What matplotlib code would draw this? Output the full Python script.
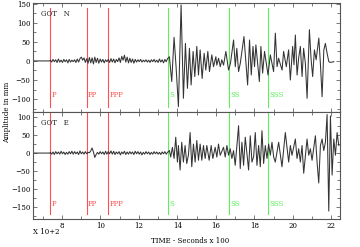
import numpy as np
import matplotlib
matplotlib.use("Agg")
import matplotlib.pyplot as plt
from matplotlib.ticker import MultipleLocator

plt.rcParams['font.family'] = ['DejaVu Serif']

# ---- data ----
x_start = 6.5
noise_start = 7.40
noise_step = 0.07

top_noise = [2, -3, 4, -2, 3, -4, 5, -3, 2, -4,
             4, -2, 3, -5, 4, -3, 2, -2, 3, -4,
             5, -3, 6, 10, 2, 8, -4, 6, -6, 9,
             -5, 8, -8, 10, -4, 7, -6, 5, -3, 4,
             -5, 3, -2, 4, -4, 6, -3, 5, -5, 4,
             -2, 8, -4, 12, 2, 15, -3, 10, -5, 7,
             -4, 5, -6, 4, -3, 3, -2, 4, -3, 2,
             -2, 3, -3, 2, -4, 3, -2, 4, -3, 2,
             -4, 5, -3, 3, -5, 4, -2, 6]

bot_noise = [2, -3, 3, -4, 4, -2, 3, -3, 5, -2,
             3, -4, 2, -3, 4, -2, 5, -3, 4, -2,
             3, -4, 6, -2, 3, -3, 4, -2, 2, 1,
             6, 14, 3, -12, -4, 2, -3, 4, -2, 3,
             -4, 5, -3, 4, -2, 6, -3, 5, -4, 3,
             -2, 4, -5, 3, -2, 5, -4, 3, -3, 4,
             -2, 3, -4, 5, -2, 4, -3, 3, -5, 2,
             -3, 4, -2, 3, -4, 2, -3, 4, -2, 3,
             -3, 2, -4, 3, -2, 4, -3, 2]

top_t = [13.586, 13.708, 13.829, 13.933, 14.055, 14.194, 14.315, 14.419, 14.524, 14.628,
         14.715, 14.819, 14.906, 15.010, 15.097, 15.183, 15.288, 15.392, 15.478, 15.583,
         15.669, 15.791, 15.878, 16.000, 16.050, 16.140, 16.230, 16.310, 16.400, 16.520,
         16.660, 16.760, 16.920, 17.010, 17.090, 17.180, 17.270, 17.460, 17.650, 17.750,
         17.840, 17.930, 18.010, 18.080, 18.260, 18.340, 18.430, 18.530, 18.710, 18.830,
         19.000, 19.090, 19.180, 19.260, 19.440, 19.520, 19.660, 19.780, 19.870, 19.990,
         20.060, 20.130, 20.220, 20.300, 20.390, 20.480, 20.560, 20.650, 20.740, 20.860,
         20.950, 21.030, 21.120, 21.210, 21.350, 21.430, 21.520, 21.610, 21.690, 21.780,
         21.870, 21.950, 22.130]
top_v = [11, -54, 62, -15, -120, 147, -98, 46, -72, 33,
         -63, 25, -41, 38, -37, 29, -46, 20, -24, 25,
         -28, 16, -15, 11, -11, 7, -15, 3, -11, 25,
         -24, -6, 55, -15, 33, -28, -6, 64, -63, 55,
         -37, 38, -15, 42, -54, 38, -32, 25, -37, 16,
         -28, 73, -15, 7, -24, 25, -15, 29, -50, 38,
         -10, 68, -37, 7, 38, -41, 33, -6, -98, 82,
         3, -41, 29, 3, 60, -6, -94, 29, 46, 20,
         -2, -4, -2]

bot_t = [13.586, 13.656, 13.742, 13.829, 13.916, 14.003, 14.055, 14.142, 14.228, 14.315,
         14.402, 14.489, 14.576, 14.663, 14.749, 14.836, 14.923, 15.010, 15.097, 15.183,
         15.270, 15.357, 15.444, 15.531, 15.652, 15.756, 15.843, 15.965, 16.051, 16.138,
         16.225, 16.399, 16.486, 16.573, 16.660, 16.746, 16.833, 16.920, 17.007, 17.180,
         17.267, 17.354, 17.441, 17.528, 17.701, 17.788, 17.875, 17.962, 18.048, 18.135,
         18.222, 18.309, 18.396, 18.482, 18.569, 18.656, 18.743, 18.830, 18.916, 19.003,
         19.088, 19.262, 19.436, 19.609, 19.783, 19.870, 19.956, 20.130, 20.217, 20.304,
         20.390, 20.477, 20.564, 20.738, 20.825, 20.911, 20.998, 21.172, 21.259, 21.345,
         21.432, 21.519, 21.606, 21.693, 21.779, 21.866, 21.953, 22.040, 22.127, 22.213,
         22.300, 22.387]
bot_v = [7, -11, 16, -15, 44, -25, 21, -47, 30, -25,
         21, -29, -5, 57, -38, 25, -25, 35, -20, 25,
         -20, 21, -15, 21, -20, 21, -15, 16, -11, 25,
         -6, 16, -11, 21, -6, 12, -15, 7, -34, 76,
         -43, 30, -34, 44, -47, 48, -25, -10, 57, -34,
         21, -38, 62, -29, 21, -15, 25, -6, 30, -11,
         -25, 30, -38, 57, -25, 21, -6, 39, -15, 12,
         -25, 21, -56, 39, -6, 12, -20, 48, -25, -83,
         21, 39, 7, 30, 107, -161, 103, -61, 39, -6,
         57, 21]

phase_names = ['P', 'PP', 'PPP', 'S', 'SS', 'SSS']
phase_times = [7.38, 9.28, 10.38, 13.50, 16.70, 18.70]
phase_colors = ['#ff4f4f', '#ff4f4f', '#ff4f4f', '#5cf05c', '#5cf05c', '#5cf05c']

station_labels = ['GOT   N', 'GOT   E']
x_ticks = [8, 10, 12, 14, 16, 18, 20, 22]
top_yticks = [-100, -50, 0, 50, 100, 150]
bot_yticks = [-150, -100, -50, 0, 50, 100]


def build(noise, ts, vs):
    nt = noise_start + noise_step * np.arange(len(noise))
    t = np.concatenate([[x_start, noise_start - 0.02], nt, ts])
    v = np.concatenate([[0, 0], noise, vs])
    return t, v


fig = plt.figure(figsize=(3.6, 2.47), dpi=100)
W, H = 360, 247
ax1 = fig.add_axes([33 / W, 1 - 112 / H, 307 / W, 109 / H])
ax2 = fig.add_axes([33 / W, 1 - 219 / H, 307 / W, 107 / H])

panels = [
    (ax1, build(top_noise, top_t, top_v), (-134, 152), top_yticks, station_labels[0], 0.12, (0.05, 0.955)),
    (ax2, build(bot_noise, bot_t, bot_v), (-183, 114), bot_yticks, station_labels[1], 0.10, (0.045, 1.0)),
]

fs = 5
for ax, (t, v), ylim, yt, lab, ly, (ymn, ymx) in panels:
    for name, pt, c in zip(phase_names, phase_times, phase_colors):
        ax.axvline(pt, ymin=ymn, ymax=ymx, color=c, lw=0.8, zorder=1)
        ax.text(pt + 0.08, ly, name, color=c, fontsize=fs,
                transform=ax.get_xaxis_transform(), va='bottom', ha='left')
    ax.plot(t, v, color='#333333', lw=0.75, zorder=2)
    ax.set_xlim(6.5, 22.45)
    ax.set_ylim(*ylim)
    ax.set_yticks(yt)
    ax.yaxis.set_minor_locator(MultipleLocator(25))
    ax.set_xticks(x_ticks)
    ax.xaxis.set_minor_locator(MultipleLocator(1))
    ax.tick_params(which='both', direction='in', top=True, right=True,
                   labelsize=fs, pad=2, width=0.5, color='#444444')
    ax.tick_params(which='major', length=3)
    ax.tick_params(which='minor', length=2)
    ax.tick_params(axis='y', labelright=False)
    for s in ax.spines.values():
        s.set_linewidth(0.8)
        s.set_color('#555555')
    ax.text(0.025, 0.895, lab, fontsize=fs, transform=ax.transAxes,
            va='center', ha='left', color='#222222')

ax1.tick_params(axis='x', labelbottom=False)
fig.text(190 / W, 1 - 241 / H, 'TIME - Seconds x 100', fontsize=fs,
         va='center', ha='center')
fig.text(33 / W, 1 - 232 / H, 'X 10+2', fontsize=fs, va='center', ha='left')
fig.text(7 / W, 1 - 112 / H, 'Amplitude in mm', fontsize=fs, rotation=90,
         va='center', ha='center')

fig.savefig('out.png', dpi=100)
